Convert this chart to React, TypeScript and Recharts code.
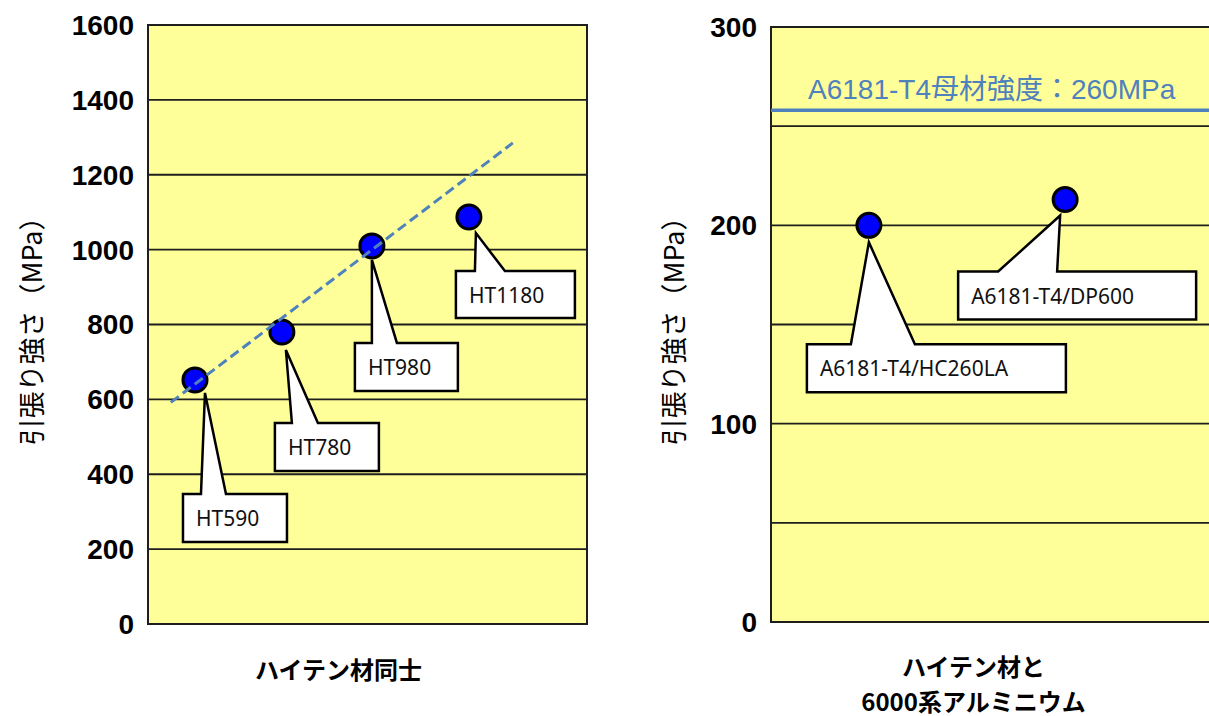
import React from 'react';
import {
  ComposedChart,
  Scatter,
  XAxis,
  YAxis,
  CartesianGrid,
  ReferenceLine,
  ReferenceArea,
} from 'recharts';

// ---------- data ----------
const leftTicks = [0, 200, 400, 600, 800, 1000, 1200, 1400, 1600];
const leftNames = ['HT590', 'HT780', 'HT980', 'HT1180'];
const leftX = [1.07, 3.05, 5.1, 7.31];
const leftY = [652, 780, 1010, 1087];
const trendX = [0.52, 8.31];
const trendY = [592, 1285];

const rightTicks = [0, 50, 100, 150, 200, 250, 300];
const rightNames = ['A6181-T4/HC260LA', 'A6181-T4/DP600'];
const rightX = [2.23, 6.7];
const rightY = [200, 213];
const baseValue = 258;
const baseLabel = 'A6181-T4母材強度：260MPa';

const yTitle = '引張り強さ（MPa）';
const leftXTitle = ['ハイテン材同士'];
const rightXTitle = ['ハイテン材と', '6000系アルミニウム'];

// ---------- callout layout (pixel offsets from point) ----------
type Callout = { bx: number; by: number; bw: number; bh: number; tx: number; ty: number; b1: number; b2: number };
const leftCallouts: Callout[] = [
  { bx: -12, by: 114, bw: 104, bh: 48, tx: 10, ty: 13, b1: 6, b2: 31 },
  { bx: -7, by: 91, bw: 104, bh: 48, tx: 4, ty: 18, b1: 10, b2: 36 },
  { bx: -17, by: 97, bw: 103, bh: 48, tx: 0, ty: 14, b1: 0, b2: 25 },
  { bx: -13, by: 54, bw: 119, bh: 47, tx: 7, ty: 16, b1: 6, b2: 36 },
];
const rightCallouts: Callout[] = [
  { bx: -62, by: 119, bw: 259, bh: 48, tx: 0, ty: 17, b1: -18, b2: 46 },
  { bx: -107, by: 72, bw: 238, bh: 48, tx: -5, ty: 16, b1: -67, b2: -8 },
];

const leftData = leftX.map((x, i) => ({ x, y: leftY[i], name: leftNames[i], i }));
const trendData = trendX.map((x, i) => ({ x, y: trendY[i] }));
const rightData = rightX.map((x, i) => ({ x, y: rightY[i], name: rightNames[i], i }));

const YELLOW = '#FFFF99';
const GRID = '#1e1e1e';
const BLUE_LINE = '#4F81BD';
const tickStyle = { fontFamily: '"Liberation Sans", Arial, sans-serif', fontWeight: 700, fontSize: 28, fill: '#000' };
const jpFont = '"Noto Sans CJK JP", sans-serif';

const makeCallout = (layouts: Callout[]) => (props: any) => {
  const { cx, cy, payload } = props;
  const L = layouts[payload.i];
  const top = cy + L.by;
  const left = cx + L.bx;
  const right = left + L.bw;
  const bottom = top + L.bh;
  const d = `M${left},${top} L${cx + L.b1},${top} L${cx + L.tx},${cy + L.ty} L${cx + L.b2},${top} L${right},${top} L${right},${bottom} L${left},${bottom} Z`;
  return (
    <g>
      <path d={d} fill="#fff" stroke="#000" strokeWidth={2.5} strokeLinejoin="miter" />
      <text
        x={left + 13}
        y={top + L.bh / 2}
        dominantBaseline="central"
        fontFamily='"Noto Sans", "Open Sans", sans-serif'
        fontSize={21}
        fill="#111"
      >
        {payload.name}
      </text>
    </g>
  );
};

const Dot = (props: any) => (
  <circle cx={props.cx} cy={props.cy} r={12} fill="#0000FF" stroke="#000" strokeWidth={3} />
);
const NoShape = () => <g />;

const yLabel = (dx: number) => (p: any) => {
  const vb = p.viewBox || {};
  const x = (vb.x || 0) + dx;
  const y = (vb.y || 0) + (vb.height || 0) / 2;
  return (
    <text
      x={x}
      y={y}
      transform={`rotate(-90 ${x} ${y})`}
      textAnchor="middle"
      dominantBaseline="central"
      fontFamily={jpFont}
      fontSize={27}
      fill="#000"
    >
      {yTitle}
    </text>
  );
};

const xLabel = (lines: string[], dx: number, firstDy: number, gap: number) => (p: any) => {
  const vb = p.viewBox || {};
  const x = (vb.x || 0) + (vb.width || 0) / 2 + dx;
  return (
    <g>
      {lines.map((t, k) => (
        <text
          key={k}
          x={x}
          y={(vb.y || 0) + firstDy + k * gap}
          textAnchor="middle"
          dominantBaseline="central"
          fontFamily={jpFont}
          fontWeight={700}
          fontSize={24}
          fill="#000"
        >
          {t}
        </text>
      ))}
    </g>
  );
};

const baseLineLabel = (p: any) => {
  const vb = p.viewBox || {};
  return (
    <text
      x={(vb.x || 0) + 37}
      y={(vb.y || 0) - 11}
      fontFamily={'"Liberation Sans", Arial, "Noto Sans CJK JP", sans-serif'}
      fontSize={28}
      fill={BLUE_LINE}
    >
      {baseLabel}
    </text>
  );
};

export default function App() {
  return (
    <div style={{ position: 'absolute', left: 0, top: 0, width: 1209, height: 716, overflow: 'hidden', background: '#fff' }}>
      <div style={{ position: 'absolute', left: 0, top: 0 }}>
        <ComposedChart width={600} height={716} margin={{ top: 25, right: 13, bottom: 0, left: 0 }}>
          <CartesianGrid vertical={false} stroke={GRID} strokeWidth={1.8} fill={YELLOW} fillOpacity={1} />
          <XAxis
            type="number"
            dataKey="x"
            domain={[0, 10]}
            tick={false}
            tickLine={false}
            axisLine={false}
            height={92}
            label={{ content: xLabel(leftXTitle, -29, 44, 35) }}
          />
          <YAxis
            type="number"
            dataKey="y"
            domain={[0, 1600]}
            ticks={leftTicks}
            interval={0}
            width={148}
            tickLine={false}
            axisLine={false}
            tickSize={0}
            tickMargin={14}
            tick={tickStyle}
            label={{ content: yLabel(30) }}
          />
          <ReferenceArea x1={0} x2={10} y1={0} y2={1600} fill="none" fillOpacity={0} stroke={GRID} strokeWidth={2} />
          <Scatter data={leftData} shape={makeCallout(leftCallouts)} isAnimationActive={false} />
          <Scatter data={leftData} shape={Dot} isAnimationActive={false} />
          <Scatter
            data={trendData}
            shape={NoShape}
            line={{ stroke: BLUE_LINE, strokeWidth: 3, strokeDasharray: '10 5' }}
            lineType="joint"
            isAnimationActive={false}
          />
        </ComposedChart>
      </div>
      <div style={{ position: 'absolute', left: 600, top: 0 }}>
        <ComposedChart width={612} height={716} margin={{ top: 27, right: 2, bottom: 0, left: 0 }}>
          <CartesianGrid vertical={false} stroke={GRID} strokeWidth={1.8} fill={YELLOW} fillOpacity={1} />
          <XAxis
            type="number"
            dataKey="x"
            domain={[0, 10]}
            tick={false}
            tickLine={false}
            axisLine={false}
            height={94}
            label={{ content: xLabel(rightXTitle, -17, 43, 35) }}
          />
          <YAxis
            type="number"
            dataKey="y"
            domain={[0, 300]}
            ticks={rightTicks}
            interval={0}
            width={171}
            tickLine={false}
            axisLine={false}
            tickSize={0}
            tickMargin={14}
            tick={tickStyle}
            tickFormatter={(v: number) => (v % 100 === 0 ? String(v) : '')}
            label={{ content: yLabel(72) }}
          />
          <ReferenceArea x1={0} x2={10} y1={0} y2={300} fill="none" fillOpacity={0} stroke={GRID} strokeWidth={2} />
          <ReferenceLine y={baseValue} stroke={BLUE_LINE} strokeWidth={3.5} label={{ content: baseLineLabel }} />
          <Scatter data={rightData} shape={makeCallout(rightCallouts)} isAnimationActive={false} />
          <Scatter data={rightData} shape={Dot} isAnimationActive={false} />
        </ComposedChart>
      </div>
    </div>
  );
}
